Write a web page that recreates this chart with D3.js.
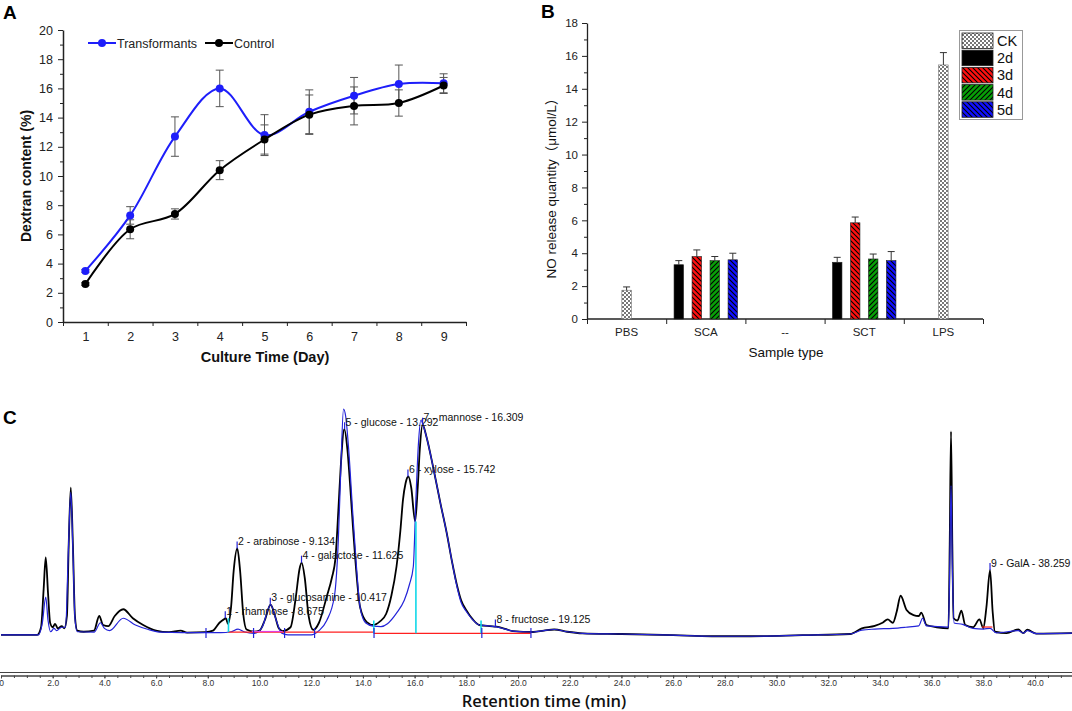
<!DOCTYPE html>
<html>
<head>
<meta charset="utf-8">
<script src="https://cdn.jsdelivr.net/npm/d3@7"></script>
<style>
body { margin: 0; background: #fff; }
svg { display: block; font-family: "Liberation Sans", Arial, sans-serif; }
</style>
</head>
<body>
<script>
// ---- panel A: dextran content ----
const days = [1, 2, 3, 4, 5, 6, 7, 8, 9];
const transMean = [3.5, 7.3, 12.7, 16.0, 12.8, 14.4, 15.5, 16.3, 16.35];
const transErr = [0.1, 0.6, 1.35, 1.25, 1.4, 1.5, 1.25, 1.3, 0.65];
const ctrlMean = [2.6, 6.35, 7.4, 10.4, 12.5, 14.2, 14.8, 15.0, 16.2];
const ctrlErr = [0.1, 0.65, 0.35, 0.65, 1.0, 1.35, 1.3, 0.9, 0.55];

// ---- panel B: NO release ----
const samples = ["PBS", "SCA", "--", "SCT", "LPS"];
const dayGroups = ["2d", "3d", "4d", "5d"];
const ckSamples = ["PBS", "LPS"];
const ckMean = [1.75, 15.45];
const ckErr = [0.2, 0.75];
const scaMean = [3.3, 3.8, 3.55, 3.6];
const scaErr = [0.25, 0.4, 0.25, 0.4];
const sctMean = [3.45, 5.85, 3.65, 3.55];
const sctErr = [0.3, 0.35, 0.3, 0.55];
const legendKeys = ["CK", "2d", "3d", "4d", "5d"];

// ---- panel C: chromatogram, [time (min), signal] ----
const blackTrace = [
  [0, -0.4], [1.40, -0.4], [1.55, 3], [1.65, 20], [1.73, 34], [1.82, 18], [1.90, 5], [2.00, 3], [2.09, 4.5],
  [2.20, 2.5], [2.35, 3.5], [2.45, 2.5], [2.55, 8], [2.62, 40], [2.70, 65], [2.78, 40], [2.86, 8], [2.95, 1.5],
  [3.2, 1], [3.6, 1.5], [3.8, 8], [3.95, 4], [4.15, 3.5], [4.4, 8], [4.73, 11], [5.1, 7], [5.5, 4], [6.0, 1.5],
  [6.5, 0.8], [6.95, 1.5], [7.2, 0.6], [7.9, 0.8], [8.2, 1.5], [8.45, 5], [8.62, 6.5], [8.70, 7], [8.78, 4.5],
  [8.90, 12], [9.00, 28], [9.14, 38], [9.25, 28], [9.37, 9], [9.50, 2], [9.8, 1], [10.0, 1.5], [10.2, 6],
  [10.43, 13], [10.6, 8], [10.75, 2.5], [10.9, 1.3], [11.2, 3], [11.4, 16], [11.55, 29], [11.63, 31.7],
  [11.75, 25], [11.9, 8], [12.08, 1.8], [12.3, 5], [12.6, 16.6], [12.8, 25], [12.94, 34], [13.05, 55],
  [13.14, 74], [13.28, 91], [13.4, 82], [13.5, 67], [13.6, 50], [13.7, 34], [13.89, 12], [14.15, 5.3],
  [14.4, 4], [14.65, 5.5], [14.9, 9], [15.1, 17], [15.3, 30], [15.45, 46], [15.55, 59.6], [15.65, 67],
  [15.76, 70], [15.87, 65], [16.02, 50], [16.12, 65], [16.2, 82], [16.31, 93], [16.45, 88], [16.72, 74],
  [17.0, 58], [17.24, 45], [17.45, 32], [17.62, 22.6], [17.8, 15], [18.0, 10.6], [18.25, 6.5], [18.5, 4],
  [18.9, 3.5], [19.17, 3.3], [19.5, 2.3], [19.8, 1.3], [20.6, 0.9], [21.0, 1.5], [21.4, 2], [21.9, 1],
  [22.5, 0.3], [24, 0], [26, -0.5], [27.5, -1], [29, -1], [31, -0.5], [32.85, 0], [33.3, 2.5], [33.8, 3.6],
  [34.1, 5], [34.3, 6.5], [34.5, 5], [34.65, 10], [34.8, 17], [35.03, 10.7], [35.3, 8.4], [35.5, 8],
  [35.6, 9.5], [35.8, 4], [36.2, 3], [36.65, 2.5], [36.7, 40], [36.75, 90], [36.8, 40], [36.85, 7],
  [37.0, 6], [37.15, 10.4], [37.3, 4], [37.6, 3], [37.85, 6.5], [38.0, 2.5], [38.12, 12], [38.26, 28.4],
  [38.36, 10], [38.45, 1], [38.9, 0.4], [39.35, 2], [39.55, 0.4], [39.7, 1.9], [40.05, 0.2], [41.45, 0.4]
];
const blueTrace = [
  [0, -0.4], [1.45, -0.4], [1.6, 5], [1.73, 16.4], [1.82, 6], [1.92, 1], [2.05, 2.5], [2.15, 1.5], [2.35, 3],
  [2.5, 3], [2.6, 35], [2.70, 63], [2.78, 38], [2.86, 7], [2.95, 1], [3.6, 0.8], [3.85, 5], [4.0, 2.5],
  [4.2, 1.5], [4.73, 7], [5.2, 4], [5.7, 2], [6.2, 0.8], [7.0, 0.6], [8.5, 0.6], [8.9, 1], [9.17, 2.2],
  [9.4, 1], [9.8, 0.3], [10.1, 3], [10.43, 13], [10.65, 6], [10.85, 0.5], [11.1, -0.4], [12.0, -0.4],
  [12.3, 1.5], [12.6, 6], [12.9, 17], [13.05, 42], [13.15, 75], [13.25, 100], [13.33, 97], [13.45, 82],
  [13.6, 55], [13.75, 30], [13.89, 12], [14.1, 5], [14.4, 3.5], [14.7, 3.3], [14.95, 4.6], [15.3, 9.3],
  [15.6, 15], [15.8, 22], [15.95, 30], [16.05, 60], [16.15, 85], [16.24, 95], [16.35, 92], [16.45, 88],
  [16.72, 74], [17.0, 58], [17.24, 45], [17.45, 32], [17.62, 22], [17.8, 14], [18.0, 10], [18.25, 6.3],
  [18.5, 4], [18.9, 3.6], [19.17, 3.2], [19.5, 2.2], [19.8, 1.3], [20.6, 0.9], [21.0, 1.5], [21.4, 2],
  [21.9, 1], [22.5, 0.3], [24, 0], [26, -0.5], [27.5, -1], [29, -1], [31, -0.5], [32.85, 0], [33.3, 1.7],
  [33.8, 2.2], [34.5, 2.5], [35.0, 3], [35.5, 3.6], [35.65, 7], [35.8, 3.6], [36.65, 3.1], [36.7, 30],
  [36.75, 66], [36.8, 30], [36.87, 4.9], [37.2, 4.3], [37.6, 2.5], [38.0, 2.2], [38.26, 2.5], [38.5, 0.5],
  [39.35, 1.5], [39.55, 0.4], [39.7, 1.5], [40.05, 0.2], [41.45, 0.4]
];
const peakNames = ["rhamnose", "arabinose", "glucosamine", "galactose", "glucose", "xylose", "mannose", "fructose", "GalA"];
const peakTimes = [8.675, 9.134, 10.417, 11.625, 13.292, 15.742, 16.309, 19.125, 38.259];
const peakHeights = [7, 38, 13, 31.7, 91, 70, 93, 3.3, 28.4];
const eventTimes = [7.93, 9.77, 10.97, 12.13, 14.43, 18.6, 20.5];
// [time, from signal, to signal]
const cutLines = [[8.8, 0.8, 7], [14.42, 0.3, 6], [16.05, 0.3, 50], [18.57, 0.3, 6]];
// [start, end, signal]
const baseRed = [[8.78, 14.4, 0.8], [14.42, 20.5, 0.3], [37.95, 38.35, 3.1]];
const basePink = [[9.7, 10.9, 1.1]];

const svg = d3.select("body").append("svg").attr("width", 1072).attr("height", 711);

function styleAxis(g, color) {
  g.selectAll("path,line").attr("stroke", color);
  g.selectAll("text").attr("fill", "#222");
}

// ================= A =================
const xA = d3.scaleLinear().domain([0.5, 9.5]).range([63, 466]);
const yA = d3.scaleLinear().domain([0, 20]).range([322, 30]);
const gA = svg.append("g");

gA.append("g").attr("transform", "translate(63,0)")
  .call(d3.axisLeft(yA).tickValues(d3.range(0, 21, 2)).tickSize(5).tickSizeOuter(0).tickPadding(5))
  .call(g => g.selectAll("text").attr("font-size", 12.5))
  .call(g => styleAxis(g, "#222"))
  .call(g => g.select(".domain").attr("stroke-width", 1.5));
gA.append("g").attr("transform", "translate(63,0)")
  .call(d3.axisLeft(yA).tickValues(d3.range(1, 20, 2)).tickSize(3).tickFormat(""))
  .call(g => g.select(".domain").remove())
  .call(g => styleAxis(g, "#222"));
gA.append("g").attr("transform", "translate(0,322)")
  .call(d3.axisBottom(xA).tickValues(d3.range(0.5, 9.6, 1)).tickSize(4).tickSizeOuter(0).tickFormat(""))
  .call(g => styleAxis(g, "#222"))
  .call(g => g.select(".domain").attr("stroke-width", 1.5));
gA.append("g").attr("transform", "translate(0,322)")
  .call(d3.axisBottom(xA).tickValues(days).tickSize(0).tickPadding(10))
  .call(g => g.select(".domain").remove())
  .call(g => g.selectAll("text").attr("font-size", 12.5).attr("fill", "#222"));

gA.append("text").attr("transform", "translate(31,176) rotate(-90)").attr("text-anchor", "middle")
  .attr("font-size", 14).attr("font-weight", "bold").attr("fill", "#111").text("Dextran content (%)");
gA.append("text").attr("x", 265).attr("y", 362).attr("text-anchor", "middle")
  .attr("font-size", 14.5).attr("font-weight", "bold").attr("fill", "#111").text("Culture Time (Day)");
svg.append("text").attr("x", 3).attr("y", 19).attr("font-size", 19).attr("font-weight", "bold").text("A");

const seriesA = [
  {name: "Transformants", mean: transMean, err: transErr, color: "#1e1efa"},
  {name: "Control", mean: ctrlMean, err: ctrlErr, color: "#000"}
];
const lineA = d3.line().x(d => xA(d.day)).y(d => yA(d.v)).curve(d3.curveCatmullRom.alpha(0.5));

seriesA.forEach(s => {
  const pts = days.map((d, i) => ({day: d, v: s.mean[i], e: s.err[i]}));
  const eb = gA.append("g").attr("stroke", "#555").attr("stroke-width", 1);
  pts.forEach(p => {
    eb.append("line").attr("x1", xA(p.day)).attr("x2", xA(p.day)).attr("y1", yA(p.v - p.e)).attr("y2", yA(p.v + p.e));
    [p.v - p.e, p.v + p.e].forEach(v => eb.append("line")
      .attr("x1", xA(p.day) - 4).attr("x2", xA(p.day) + 4).attr("y1", yA(v)).attr("y2", yA(v)));
  });
});
seriesA.forEach(s => {
  const pts = days.map((d, i) => ({day: d, v: s.mean[i]}));
  gA.append("path").datum(pts).attr("d", lineA).attr("fill", "none").attr("stroke", s.color).attr("stroke-width", 2);
  gA.append("g").selectAll("circle").data(pts).join("circle")
    .attr("cx", d => xA(d.day)).attr("cy", d => yA(d.v)).attr("r", 4).attr("fill", s.color);
});

// legend A
const legA = [{x: 88, s: seriesA[0]}, {x: 205, s: seriesA[1]}];
legA.forEach(l => {
  gA.append("line").attr("x1", l.x).attr("x2", l.x + 28).attr("y1", 43).attr("y2", 43)
    .attr("stroke", l.s.color).attr("stroke-width", 2);
  gA.append("circle").attr("cx", l.x + 14).attr("cy", 43).attr("r", 4).attr("fill", l.s.color);
  gA.append("text").attr("x", l.x + 29).attr("y", 47.5).attr("font-size", 12.5).attr("fill", "#222").text(l.s.name);
});

// ================= B =================
const defs = svg.append("defs");
const ck = defs.append("pattern").attr("id", "ck").attr("width", 4).attr("height", 4).attr("patternUnits", "userSpaceOnUse");
ck.append("rect").attr("width", 4).attr("height", 4).attr("fill", "#fff");
ck.append("rect").attr("width", 2).attr("height", 2).attr("fill", "#777");
ck.append("rect").attr("x", 2).attr("y", 2).attr("width", 2).attr("height", 2).attr("fill", "#777");

function hatch(id, color, back) {
  const p = defs.append("pattern").attr("id", id).attr("width", 5).attr("height", 5).attr("patternUnits", "userSpaceOnUse");
  p.append("rect").attr("width", 5).attr("height", 5).attr("fill", color);
  p.append("path").attr("stroke", "#000").attr("stroke-width", 1.1)
    .attr("d", back ? "M-1,4 l2,2 M0,0 l5,5 M4,-1 l2,2" : "M-1,1 l2,-2 M0,5 l5,-5 M4,6 l2,-2");
}
hatch("h3", "#ff1010", true);
hatch("h4", "#07a007", false);
hatch("h5", "#1010ff", true);
const fillB = {CK: "url(#ck)", "2d": "#000", "3d": "url(#h3)", "4d": "url(#h4)", "5d": "url(#h5)"};

const xB = d3.scaleBand().domain(samples).range([587, 983]);
const yB = d3.scaleLinear().domain([0, 18]).range([319, 23]);
const xSub = d3.scaleBand().domain(dayGroups).range([-36, 36]);
const gB = svg.append("g");

gB.append("g").attr("transform", "translate(587,0)")
  .call(d3.axisLeft(yB).tickValues(d3.range(0, 19, 2)).tickSize(5).tickSizeOuter(0).tickPadding(4))
  .call(g => g.selectAll("text").attr("font-size", 11.5))
  .call(g => styleAxis(g, "#222"))
  .call(g => g.select(".domain").attr("stroke-width", 1.3));
gB.append("g").attr("transform", "translate(587,0)")
  .call(d3.axisLeft(yB).tickValues(d3.range(1, 18, 2)).tickSize(3).tickFormat(""))
  .call(g => g.select(".domain").remove())
  .call(g => styleAxis(g, "#222"));
const bounds = samples.map(s => xB(s)).concat([983]);
gB.append("g").attr("transform", "translate(0,319)")
  .call(d3.axisBottom(d3.scaleIdentity()).tickValues(bounds).tickSize(5).tickSizeOuter(0).tickFormat(""))
  .call(g => g.select(".domain").attr("d", "M587,0H983").attr("stroke-width", 1.3))
  .call(g => styleAxis(g, "#222"));
gB.append("g").attr("transform", "translate(0,319)")
  .call(d3.axisBottom(xB).tickSize(0).tickPadding(9))
  .call(g => g.select(".domain").remove())
  .call(g => g.selectAll("text").attr("font-size", 11.5).attr("fill", "#222"));

gB.append("text").attr("transform", "translate(556,185) rotate(-90)").attr("text-anchor", "middle")
  .attr("font-size", 13.5).attr("fill", "#111")
  .style("font-family", "'Liberation Sans', 'Noto Sans CJK SC', sans-serif")
  .text("NO release quantity（μmol/L）");
gB.append("text").attr("x", 786).attr("y", 357).attr("text-anchor", "middle")
  .attr("font-size", 13.5).attr("fill", "#111").text("Sample type");
svg.append("text").attr("x", 541).attr("y", 18).attr("font-size", 19).attr("font-weight", "bold").text("B");

const barsB = [];
ckSamples.forEach((s, i) => barsB.push({x: xB(s) + xB.bandwidth() / 2, v: ckMean[i], e: ckErr[i], key: "CK"}));
[["SCA", scaMean, scaErr], ["SCT", sctMean, sctErr]].forEach(([s, m, e]) => {
  dayGroups.forEach((d, i) => barsB.push({
    x: xB(s) + xB.bandwidth() / 2 + xSub(d) + xSub.bandwidth() / 2, v: m[i], e: e[i], key: d
  }));
});
const barW = 9.5;
gB.append("g").selectAll("rect").data(barsB).join("rect")
  .attr("x", d => d.x - barW / 2).attr("width", barW)
  .attr("y", d => yB(d.v)).attr("height", d => yB(0) - yB(d.v))
  .attr("fill", d => fillB[d.key]).attr("stroke", d => d.key === "CK" ? "#777" : "#222").attr("stroke-width", 0.6);
const ebB = gB.append("g").attr("stroke", "#333").attr("stroke-width", 1);
barsB.forEach(d => {
  ebB.append("line").attr("x1", d.x).attr("x2", d.x).attr("y1", yB(d.v)).attr("y2", yB(d.v + d.e));
  ebB.append("line").attr("x1", d.x - 3.5).attr("x2", d.x + 3.5).attr("y1", yB(d.v + d.e)).attr("y2", yB(d.v + d.e));
});

// legend B
const legB = gB.append("g");
legB.append("rect").attr("x", 959.5).attr("y", 30.5).attr("width", 63).attr("height", 89)
  .attr("fill", "#fff").attr("stroke", "#999").attr("stroke-width", 1);
legendKeys.forEach((k, i) => {
  const y = 33 + i * 17.2;
  legB.append("rect").attr("x", 962).attr("y", y).attr("width", 31).attr("height", 15.5)
    .attr("fill", fillB[k]).attr("stroke", "#222").attr("stroke-width", 0.8);
  legB.append("text").attr("x", 997).attr("y", y + 13).attr("font-size", 14.5).attr("fill", "#111").text(k);
});

// ================= C =================
const xC = d3.scaleLinear().domain([0, 41.43]).range([1, 1072]);
const yC = d3.scaleLinear().domain([0, 100]).range([634, 409]);
const gC = svg.append("g");
svg.append("text").attr("x", 3).attr("y", 424).attr("font-size", 19).attr("font-weight", "bold").text("C");

const lineC = d3.line().x(d => xC(d[0])).y(d => yC(d[1])).curve(d3.curveMonotoneX);
gC.append("path").datum(blackTrace).attr("d", lineC).attr("fill", "none").attr("stroke", "#000").attr("stroke-width", 1.8);
gC.append("path").datum(blueTrace).attr("d", lineC).attr("fill", "none").attr("stroke", "#2323d8").attr("stroke-width", 1.2);

baseRed.forEach(b => gC.append("line").attr("x1", xC(b[0])).attr("x2", xC(b[1])).attr("y1", yC(b[2])).attr("y2", yC(b[2]))
  .attr("stroke", "#ff2020").attr("stroke-width", 1.2));
basePink.forEach(b => gC.append("line").attr("x1", xC(b[0])).attr("x2", xC(b[1])).attr("y1", yC(b[2])).attr("y2", yC(b[2]))
  .attr("stroke", "#e040e0").attr("stroke-width", 1.2));
cutLines.forEach(c => gC.append("line").attr("x1", xC(c[0])).attr("x2", xC(c[0])).attr("y1", yC(c[1])).attr("y2", yC(c[2]))
  .attr("stroke", "#10d8e8").attr("stroke-width", 1.6));
eventTimes.forEach(t => gC.append("line").attr("x1", xC(t)).attr("x2", xC(t)).attr("y1", yC(0) - 6).attr("y2", yC(0) + 4)
  .attr("stroke", "#2323d8").attr("stroke-width", 1.2));

peakTimes.forEach((t, i) => {
  const y = yC(peakHeights[i]);
  gC.append("line").attr("x1", xC(t)).attr("x2", xC(t)).attr("y1", y - 7).attr("y2", y)
    .attr("stroke", "#2323d8").attr("stroke-width", 1.2);
  gC.append("text").attr("x", xC(t) + 1).attr("y", y - 3.5).attr("font-size", 10.5).attr("fill", "#111")
    .text(`${i + 1} - ${peakNames[i]} - ${t.toFixed(3)}`);
});

// double axis line with minute ticks
gC.append("line").attr("x1", 0).attr("x2", 1072).attr("y1", 672.5).attr("y2", 672.5).attr("stroke", "#444").attr("stroke-width", 1.2);
gC.append("g").attr("transform", "translate(0,675.5)")
  .call(d3.axisBottom(xC).tickValues(d3.range(0, 41.5, 0.5)).tickSize(2.5).tickSizeOuter(0).tickFormat(""))
  .call(g => g.select(".domain").attr("stroke-width", 1.6))
  .call(g => styleAxis(g, "#444"));
gC.append("g").attr("transform", "translate(0,675.5)")
  .call(d3.axisBottom(xC).tickValues(d3.range(0, 41, 2)).tickSize(3).tickPadding(1)
    .tickFormat(d => d === 0 ? "0" : d.toFixed(1)))
  .call(g => g.select(".domain").remove())
  .call(g => g.selectAll("text").attr("font-size", 8.5).attr("fill", "#333"))
  .call(g => g.selectAll("line").attr("stroke", "#444"));
gC.append("text").attr("x", 544).attr("y", 707).attr("text-anchor", "middle")
  .attr("font-size", 16.5).attr("font-weight", 600).attr("fill", "#111")
  .style("font-family", "'Open Sans', sans-serif").text("Retention time (min)");
</script>
</body>
</html>
